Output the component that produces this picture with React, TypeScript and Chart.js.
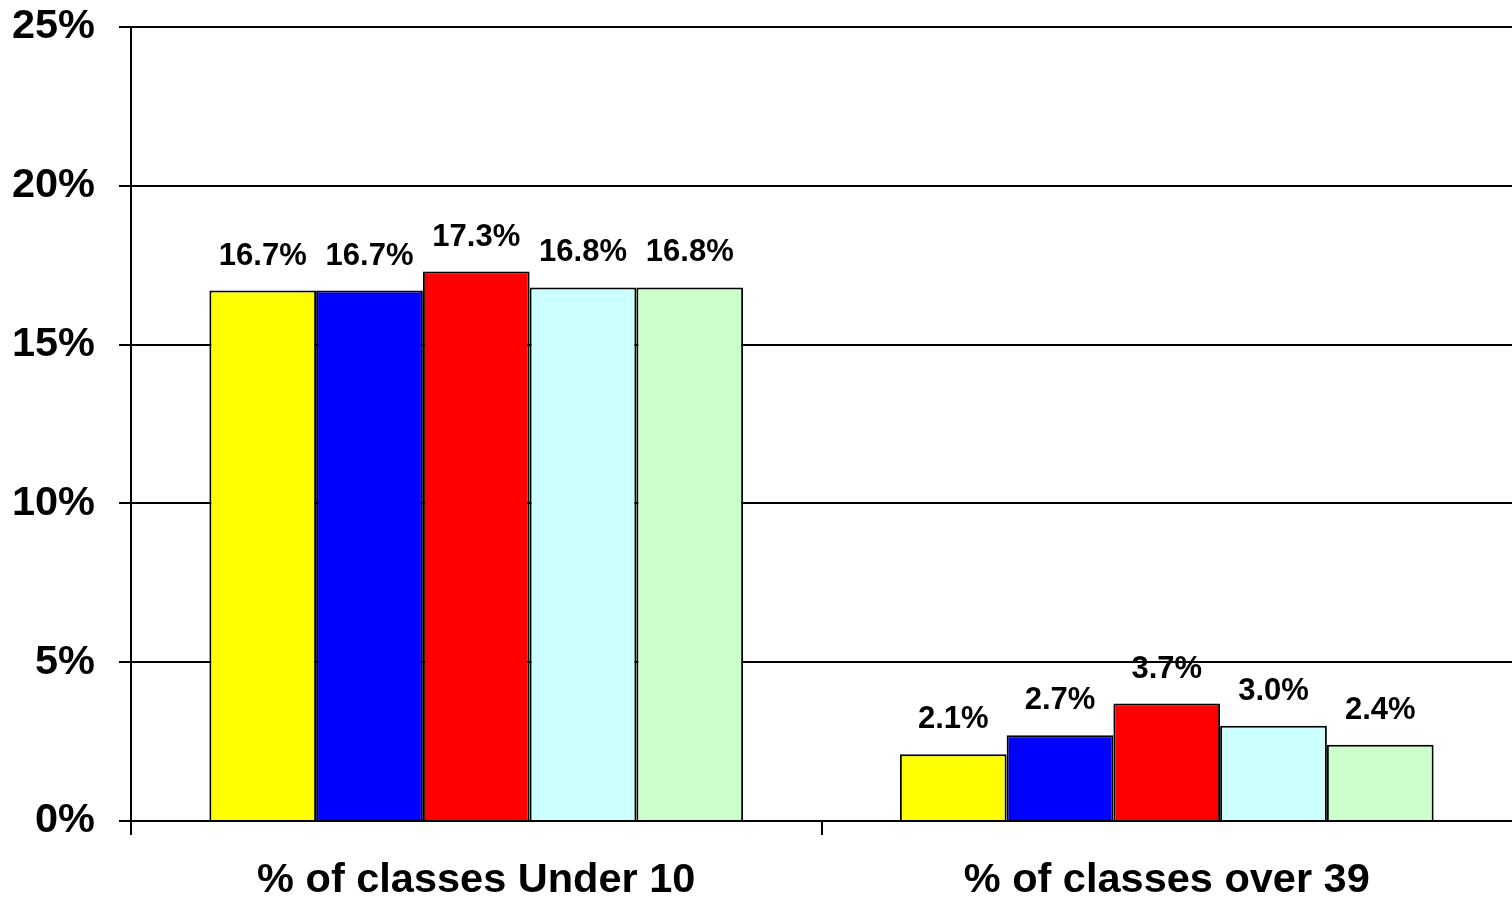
import React, { useEffect, useRef } from "react";
import { Chart, registerables } from "chart.js";

Chart.register(...registerables);

const categories = ["% of classes Under 10", "% of classes over 39"];
const seriesA = [16.7, 2.1];
const seriesB = [16.7, 2.7];
const seriesC = [17.3, 3.7];
const seriesD = [16.8, 3.0];
const seriesE = [16.8, 2.4];
const seriesColors = ["#FFFF00", "#0000FF", "#FF0000", "#CCFFFF", "#CCFFCC"];
const yTicks = [0, 5, 10, 15, 20, 25];

const FONT = "'Liberation Sans', Arial, sans-serif";

const valueLabels = {
  id: "valueLabels",
  afterDatasetsDraw(chart: any) {
    const ctx = chart.ctx;
    ctx.save();
    ctx.font = `bold 31px ${FONT}`;
    ctx.fillStyle = "#000";
    ctx.textAlign = "center";
    ctx.textBaseline = "middle";
    chart.data.datasets.forEach((ds: any, i: number) => {
      const meta = chart.getDatasetMeta(i);
      meta.data.forEach((bar: any, j: number) => {
        const v = ds.data[j];
        ctx.fillText(v.toFixed(1) + "%", bar.x, bar.y - 34.5);
      });
    });
    ctx.restore();
  },
};

export default function App() {
  const ref = useRef<HTMLCanvasElement>(null);
  useEffect(() => {
    document.body.style.margin = "0";
    const series = [seriesA, seriesB, seriesC, seriesD, seriesE];
    const chart = new Chart(ref.current!, {
      type: "bar",
      data: {
        labels: categories,
        datasets: series.map((s, i) => ({
          label: "S" + i,
          data: s,
          backgroundColor: seriesColors[i],
          borderColor: "#000",
          borderWidth: 2,
          categoryPercentage: 0.773,
          barPercentage: 1,
        })),
      },
      options: {
        animation: false,
        responsive: false,
        maintainAspectRatio: false,
        layout: { padding: { top: 27, right: 0, left: 0, bottom: 0 } },
        plugins: { legend: { display: false }, tooltip: { enabled: false } },
        scales: {
          x: {
            afterFit: (s: any) => {
              s.height = 79;
              s.paddingLeft = 0;
              s.paddingRight = 0;
            },
            grid: {
              offset: true,
              drawOnChartArea: false,
              drawTicks: true,
              tickLength: 14,
              color: (c: any) => (c.index === undefined ? "rgba(0,0,0,0)" : "#000"),
              lineWidth: 2,
            },
            border: { color: "#000", width: 2 },
            ticks: {
              color: "#000",
              padding: 21,
              font: { family: FONT, size: 41.5, weight: "bold" },
              maxRotation: 0,
            },
          },
          y: {
            min: 0,
            max: 25,
            afterFit: (s: any) => {
              s.width = 131;
              s.paddingTop = 0;
              s.paddingBottom = 0;
            },
            afterBuildTicks: (s: any) => {
              s.ticks = yTicks.map((v) => ({ value: v }));
            },
            grid: {
              color: "#000",
              lineWidth: 2,
              tickLength: 12,
            },
            border: { color: "#000", width: 2 },
            ticks: {
              color: "#000",
              padding: 24,
              font: { family: FONT, size: 41.5, weight: "bold" },
              callback: (v: any) => v + "%",
            },
          },
        },
      },
      plugins: [valueLabels],
    });
    return () => chart.destroy();
  }, []);
  return (
    <div style={{ position: "absolute", left: 0, top: 0, width: 1512, height: 900 }}>
      <canvas ref={ref} width={1512} height={900} style={{ width: 1512, height: 900 }} />
    </div>
  );
}
